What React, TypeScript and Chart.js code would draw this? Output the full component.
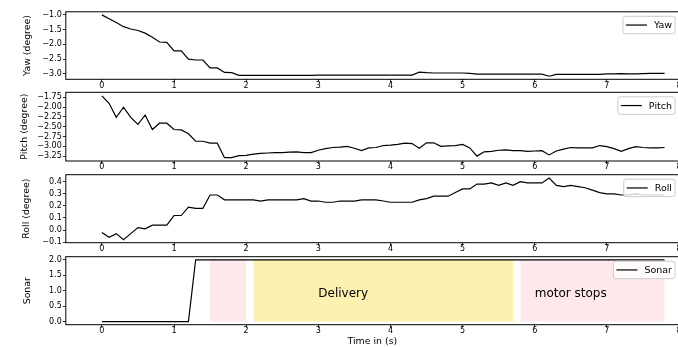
import React, { useEffect, useRef } from 'react';
import { Chart, registerables } from 'chart.js';

Chart.register(...registerables);

// ---------------- data ----------------
const TIME = [
  0.0, 0.1, 0.2, 0.3, 0.4, 0.5, 0.6, 0.7, 0.8, 0.9,
  1.0, 1.1, 1.2, 1.3, 1.4, 1.5, 1.6, 1.7, 1.8, 1.9,
  2.0, 2.1, 2.2, 2.3, 2.4, 2.5, 2.6, 2.7, 2.8, 2.9,
  3.0, 3.1, 3.2, 3.3, 3.4, 3.5, 3.6, 3.7, 3.8, 3.9,
  4.0, 4.1, 4.2, 4.3, 4.4, 4.5, 4.6, 4.7, 4.8, 4.9,
  5.0, 5.1, 5.2, 5.3, 5.4, 5.5, 5.6, 5.7, 5.8, 5.9,
  6.0, 6.1, 6.2, 6.3, 6.4, 6.5, 6.6, 6.7, 6.8, 6.9,
  7.0, 7.1, 7.2, 7.3, 7.4, 7.5, 7.6, 7.7, 7.8,
];

const YAW = [
  -1.0, -1.13, -1.26, -1.4, -1.48, -1.53, -1.62, -1.76, -1.92, -1.93,
  -2.22, -2.22, -2.5, -2.53, -2.53, -2.8, -2.8, -2.95, -2.96, -3.05,
  -3.05, -3.05, -3.05, -3.05, -3.05, -3.05, -3.05, -3.05, -3.05, -3.05,
  -3.04, -3.04, -3.04, -3.04, -3.04, -3.04, -3.04, -3.04, -3.04, -3.04,
  -3.04, -3.04, -3.04, -3.04, -2.94, -2.96, -2.97, -2.97, -2.97, -2.97,
  -2.97, -2.98, -3.01, -3.01, -3.01, -3.01, -3.01, -3.01, -3.01, -3.01,
  -3.01, -3.01, -3.08, -3.02, -3.02, -3.02, -3.02, -3.02, -3.02, -3.02,
  -3.0, -3.0, -2.99, -3.0, -3.0, -2.99, -2.98, -2.98, -2.98,
];

const PITCH = [
  -1.71, -1.9, -2.26, -2.0, -2.26, -2.44, -2.2, -2.57, -2.41, -2.41,
  -2.57, -2.58, -2.68, -2.87, -2.87, -2.92, -2.92, -3.29, -3.29, -3.24,
  -3.23, -3.2, -3.18, -3.17, -3.16, -3.16, -3.15, -3.14, -3.16, -3.16,
  -3.1, -3.06, -3.03, -3.02, -3.0, -3.05, -3.11, -3.04, -3.03, -2.98,
  -2.97, -2.95, -2.92, -2.93, -3.05, -2.91, -2.91, -3.0, -2.99, -2.98,
  -2.95, -3.04, -3.25, -3.14, -3.13, -3.1, -3.09, -3.11, -3.11, -3.13,
  -3.12, -3.11, -3.22, -3.12, -3.07, -3.03, -3.04, -3.04, -3.04, -2.98,
  -3.01, -3.06, -3.13, -3.06, -3.01, -3.03, -3.04, -3.04, -3.03,
];

const ROLL = [
  -0.02, -0.06, -0.03, -0.08, -0.03, 0.02, 0.01, 0.04, 0.04, 0.04,
  0.12, 0.12, 0.19, 0.18, 0.18, 0.29, 0.29, 0.25, 0.25, 0.25,
  0.25, 0.25, 0.24, 0.25, 0.25, 0.25, 0.25, 0.25, 0.26, 0.24,
  0.24, 0.23, 0.23, 0.24, 0.24, 0.24, 0.25, 0.25, 0.25, 0.24,
  0.23, 0.23, 0.23, 0.23, 0.25, 0.26, 0.28, 0.28, 0.28, 0.31,
  0.34, 0.34, 0.38, 0.38, 0.39, 0.37, 0.39, 0.37, 0.4, 0.39,
  0.39, 0.39, 0.43, 0.37, 0.36, 0.37, 0.36, 0.35, 0.33, 0.31,
  0.3, 0.3, 0.29, 0.29, 0.3, 0.29, 0.29, 0.29, 0.29,
];

const SONAR = [
  0, 0, 0, 0, 0, 0, 0, 0, 0, 0,
  0, 0, 0, 2, 2, 2, 2, 2, 2, 2,
  2, 2, 2, 2, 2, 2, 2, 2, 2, 2,
  2, 2, 2, 2, 2, 2, 2, 2, 2, 2,
  2, 2, 2, 2, 2, 2, 2, 2, 2, 2,
  2, 2, 2, 2, 2, 2, 2, 2, 2, 2,
  2, 2, 2, 2, 2, 2, 2, 2, 2, 2,
  2, 2, 2, 2, 2, 2, 2, 2, 2,
];

const X_TICKS = [0, 1, 2, 3, 4, 5, 6, 7, 8];
const YAW_TICKS = [-3.0, -2.5, -2.0, -1.5, -1.0];
const PITCH_TICKS = [-3.25, -3.0, -2.75, -2.5, -2.25, -2.0, -1.75];
const ROLL_TICKS = [-0.1, 0.0, 0.1, 0.2, 0.3, 0.4];
const SONAR_TICKS = [0.0, 0.5, 1.0, 1.5, 2.0];

const SPAN_START = [1.5, 2.1, 5.8];
const SPAN_END = [2.0, 5.7, 7.8];
const SPAN_LEVEL = 2;
const SPAN_COLORS = ['#ffe8ec', '#fdf0b0', '#ffe8ec'];

const NOTE_TEXT = ['Delivery', 'motor stops'];
const NOTE_X = [3.0, 6.0];
const NOTE_Y = [0.8, 0.8];

// ---------------- layout ----------------
const FONT = 'DejaVu Sans';
const CANVAS_W = 690;
const AXIS_LEFT = 65.8;
const AXIS_RIGHT = 679;
const LEGEND_RIGHT = 675;

type Panel = {
  label: string;
  yTitle: string;
  values: number[];
  ticks: number[];
  decimals: number;
  min: number;
  max: number;
  top: number;
  height: number;
  padTop: number;
  xh: number;
  titlePad: number;
  xTitle?: string;
  notes?: boolean;
};

const PANELS: Panel[] = [
  { label: 'Yaw', yTitle: 'Yaw (degree)', values: YAW, ticks: YAW_TICKS, decimals: 1, min: -3.184, max: -0.896,
    top: 0, height: 91, padTop: 11.8, xh: 11.7, titlePad: 22 },
  { label: 'Pitch', yTitle: 'Pitch (degree)', values: PITCH, ticks: PITCH_TICKS, decimals: 2, min: -3.375, max: -1.62,
    top: 84, height: 89, padTop: 8.3, xh: 12, titlePad: 19.4 },
  { label: 'Roll', yTitle: 'Roll (degree)', values: ROLL, ticks: ROLL_TICKS, decimals: 1, min: -0.105, max: 0.458,
    top: 166, height: 88, padTop: 8.7, xh: 11.3, titlePad: 21.4 },
  { label: 'Sonar', yTitle: 'Sonar', values: SONAR, ticks: SONAR_TICKS, decimals: 1, min: -0.1, max: 2.1,
    top: 248, height: 99, padTop: 8.7, xh: 22.3, titlePad: 22.4, xTitle: 'Time in (s)', notes: true },
];

function fmt(v: number, d: number) {
  return v.toFixed(d).replace('-', '\u2212');
}

function makeFrame(label: string, notes: boolean) {
  return {
    id: 'frame_' + label,
    afterDatasetsDraw(chart: any) {
      const { ctx, chartArea: a, scales } = chart;
      ctx.save();
      if (notes) {
        ctx.fillStyle = '#000';
        ctx.font = `12px "${FONT}"`;
        ctx.textAlign = 'left';
        ctx.textBaseline = 'alphabetic';
        NOTE_TEXT.forEach((t, i) => {
          ctx.fillText(t, scales.x.getPixelForValue(NOTE_X[i]), scales.y.getPixelForValue(NOTE_Y[i]));
        });
      }
      // spines
      ctx.strokeStyle = '#000';
      ctx.lineWidth = 1;
      ctx.strokeRect(a.left, a.top, a.right - a.left, a.bottom - a.top);
      // legend
      ctx.font = `9.5px "${FONT}"`;
      const tw = ctx.measureText(label).width;
      const h = 17.5;
      const w = 3 + 21 + 7 + tw + 3;
      const x0 = LEGEND_RIGHT - w;
      const y0 = a.top + 4.5;
      ctx.beginPath();
      if ((ctx as any).roundRect) (ctx as any).roundRect(x0, y0, w, h, 2.5);
      else ctx.rect(x0, y0, w, h);
      ctx.fillStyle = 'rgba(255,255,255,0.8)';
      ctx.fill();
      ctx.strokeStyle = '#cccccc';
      ctx.lineWidth = 1;
      ctx.stroke();
      ctx.beginPath();
      ctx.moveTo(x0 + 3, y0 + h / 2);
      ctx.lineTo(x0 + 24, y0 + h / 2);
      ctx.strokeStyle = '#000';
      ctx.lineWidth = 1.2;
      ctx.stroke();
      ctx.fillStyle = '#000';
      ctx.textAlign = 'left';
      ctx.textBaseline = 'middle';
      ctx.fillText(label, x0 + 31, y0 + h / 2 + 0.5);
      ctx.restore();
    },
  };
}

function PanelChart({ p }: { p: Panel }) {
  const ref = useRef<HTMLCanvasElement | null>(null);
  useEffect(() => {
    if (!ref.current) return;
    const datasets: any[] = [
      {
        data: TIME.map((t, i) => ({ x: t, y: p.values[i] })),
        borderColor: '#000',
        borderWidth: 1.2,
        pointRadius: 0,
        fill: false,
        tension: 0,
        order: 1,
      },
    ];
    if (p.notes) {
      SPAN_START.forEach((s, i) => {
        datasets.push({
          data: [{ x: s, y: SPAN_LEVEL }, { x: SPAN_END[i], y: SPAN_LEVEL }],
          borderColor: 'rgba(0,0,0,0)',
          borderWidth: 0,
          pointRadius: 0,
          fill: { value: 0 },
          backgroundColor: SPAN_COLORS[i],
          order: 2,
        });
      });
    }
    const chart = new Chart(ref.current, {
      type: 'line',
      data: { datasets },
      plugins: [makeFrame(p.label, !!p.notes)],
      options: {
        animation: false,
        responsive: false,
        events: [],
        layout: { padding: { top: p.padTop, left: 0, right: CANVAS_W - AXIS_RIGHT, bottom: 0 } },
        plugins: { legend: { display: false }, tooltip: { enabled: false } },
        scales: {
          x: {
            type: 'linear',
            min: -0.5,
            max: 8.0,
            afterBuildTicks: (ax: any) => { ax.ticks = X_TICKS.map((v) => ({ value: v })); },
            afterFit: (ax: any) => {
              ax.height = p.xh;
              ax.paddingLeft = 0; ax.paddingRight = 0; ax.paddingTop = 0; ax.paddingBottom = 0;
            },
            ticks: {
              autoSkip: false,
              maxRotation: 0,
              minRotation: 0,
              padding: 0,
              color: '#000',
              font: { family: FONT, size: 8, lineHeight: 0.85 },
              callback: (v: any) => String(v),
            },
            grid: { display: true, drawOnChartArea: false, drawTicks: true, tickLength: 3, tickColor: '#000', tickWidth: 0.8 },
            border: { display: false },
            title: p.xTitle
              ? { display: true, text: p.xTitle, color: '#000', font: { family: FONT, size: 9.4, lineHeight: 1.2 }, padding: { top: 0, bottom: 0 } }
              : { display: false },
          },
          y: {
            type: 'linear',
            min: p.min,
            max: p.max,
            afterBuildTicks: (ax: any) => { ax.ticks = p.ticks.map((v) => ({ value: v })); },
            afterFit: (ax: any) => {
              ax.width = AXIS_LEFT;
              ax.paddingLeft = 0; ax.paddingRight = 0; ax.paddingTop = 0; ax.paddingBottom = 0;
            },
            ticks: {
              autoSkip: false,
              padding: 1,
              color: '#000',
              font: { family: FONT, size: 8, lineHeight: 1.2 },
              callback: (v: any) => fmt(Number(v), p.decimals),
            },
            grid: { display: true, drawOnChartArea: false, drawTicks: true, tickLength: 3, tickColor: '#000', tickWidth: 0.8 },
            border: { display: false },
            title: {
              display: true,
              text: p.yTitle,
              color: '#000',
              font: { family: FONT, size: 9.4, lineHeight: 1.2 },
              padding: { top: p.titlePad, bottom: 0 },
            },
          },
        },
      } as any,
    });
    return () => chart.destroy();
  }, [p]);
  return (
    <canvas
      ref={ref}
      width={CANVAS_W}
      height={p.height}
      style={{ position: 'absolute', left: 0, top: p.top, width: CANVAS_W, height: p.height }}
    />
  );
}

export default function App() {
  return (
    <div
      style={{
        position: 'fixed',
        left: 0,
        top: 0,
        width: 678,
        height: 347,
        overflow: 'hidden',
        background: '#fff',
      }}
    >
      {PANELS.map((p) => (
        <PanelChart key={p.label} p={p} />
      ))}
    </div>
  );
}
